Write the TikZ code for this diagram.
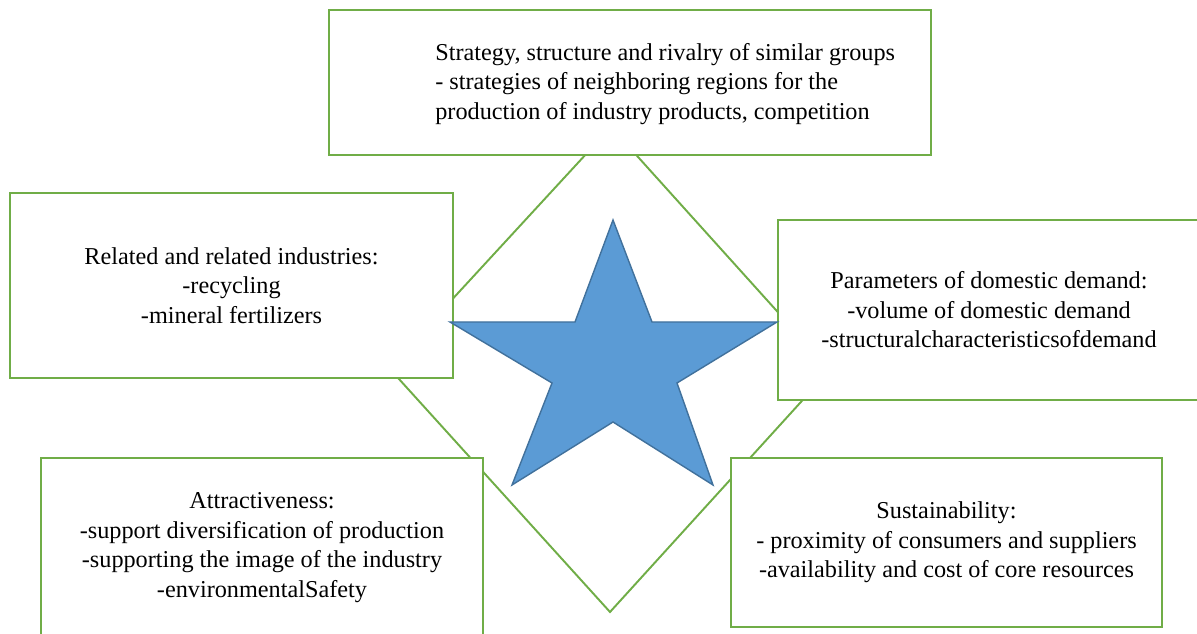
\documentclass[tikz,border=0pt]{standalone}
\usepackage{fontspec}
\setmainfont{Liberation Serif}
\usetikzlibrary{positioning}

\definecolor{boxgreen}{RGB}{112,173,71}
\definecolor{starblue}{RGB}{91,155,213}
\definecolor{stardark}{RGB}{65,113,156}

\tikzset{
	factor/.style={draw=boxgreen, line width=1.3pt, fill=white, inner sep=0pt, align=center, font=\fontsize{13.8}{16.8}\selectfont},
	rhomb/.style={draw=boxgreen, line width=1.1pt},
}

\begin{document}
\begin{tikzpicture}[x=0.02cm, y=-0.02cm]
					\useasboundingbox (0,0) rectangle (1197,634);
					\clip (0,0) rectangle (1197,634);
					
					\coordinate (T) at (611,127);
					\coordinate (R) at (830,370);
					\coordinate (B) at (610,612);
					\coordinate (L) at (389,368);
					
					\draw[rhomb] (T) -- (R) -- (B) -- (L) -- cycle;
					
					\node[factor, minimum width=12.04cm, minimum height=2.9cm] (strategy) at (630,82.5) {};
					\node[anchor=west, align=left, inner sep=0pt, font=\fontsize{13.8}{16.8}\selectfont] (strategytext) at (435,84) {Strategy, structure and rivalry of similar groups\\- strategies of neighboring regions for the\\production of industry products, competition};
					
					\node[factor, minimum width=8.86cm, minimum height=3.7cm] (related) at (231.5,285.5) {Related and related industries:\\-recycling\\-mineral fertilizers};
					\node[factor, minimum width=8.44cm, minimum height=3.6cm] (demand) at (989,310) {Parameters of domestic demand:\\-volume of domestic demand\\-structuralcharacteristicsofdemand};
					\node[factor, minimum width=8.84cm, minimum height=3.58cm] (attract) at (262,547.5) {Attractiveness:\\-support diversification of production\\-supporting the image of the industry\\-environmentalSafety};
					\node[factor, minimum width=8.62cm, minimum height=3.38cm] (sustain) at (946.5,542.5) {Sustainability:\\- proximity of consumers and suppliers\\-availability and cost of core resources};
					
					\fill[starblue, draw=stardark, line width=0.8pt, line join=miter]
						(613,220) -- (652,322) -- (777,322) -- (677,383) -- (713,485) -- (613,422)
						-- (512,485) -- (552,383) -- (450,322) -- (575,322) -- cycle;
					
				\end{tikzpicture}
\end{document}
